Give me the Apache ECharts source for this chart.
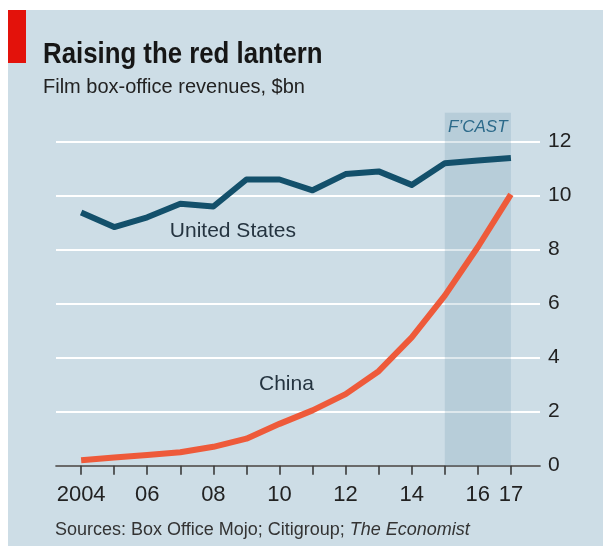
<!DOCTYPE html>
<html>
<head>
<meta charset="utf-8">
<script src="https://cdn.jsdelivr.net/npm/echarts@6/dist/echarts.min.js"></script>
<style>html,body{margin:0;padding:0;background:#fff}#c{width:603px;height:546px}</style>
</head>
<body>
<div id="c"></div>
<script>
const years = [2004,2005,2006,2007,2008,2009,2010,2011,2012,2013,2014,2015,2016,2017];
const usRevenue = [9.38,8.84,9.2,9.7,9.6,10.6,10.6,10.2,10.8,10.9,10.4,11.2,11.3,11.4];
const chinaRevenue = [0.2,0.3,0.4,0.5,0.7,1.0,1.55,2.05,2.65,3.5,4.75,6.3,8.1,10.05];
const xTickValues = [2004,2005,2006,2007,2008,2009,2010,2011,2012,2013,2014,2015,2016,2017];
const xLabelValues = [2004,2006,2008,2010,2012,2014,2016,2017];
const forecastRange = [2015, 2017];

const chart = echarts.init(document.getElementById('c'));
const SANS = '"Liberation Sans", Arial, sans-serif';

const textPoint = (txt, coord) => ({
  silent:true, symbol:'rect', symbolSize:1, itemStyle:{color:'rgba(0,0,0,0)'},
  label:{show:true, position:'inside', formatter:txt, fontSize:21, fontFamily:SANS, color:'#253440'},
  data:[{coord:coord}]
});

chart.setOption({
  animation: false,
  backgroundColor: '#ffffff',
  graphic: [
    {type:'rect', z:-100, shape:{x:8, y:10, width:595, height:536}, style:{fill:'#cddde6'}},
    {type:'rect', z:-90, shape:{x:8, y:10, width:18, height:53}, style:{fill:'#e3120b'}},
    {type:'text', x:43, y:55, scaleX:0.86, style:{text:'Raising the red lantern', font:'bold 30px ' + SANS, fill:'#161616', verticalAlign:'middle'}},
    {type:'text', x:43, y:87, style:{text:'Film box-office revenues, $bn', font:'20px ' + SANS, fill:'#222', verticalAlign:'middle'}},
    {type:'text', x:55, y:530, style:{verticalAlign:'middle', rich:{a:{font:'18px ' + SANS, fill:'#333'}, b:{font:'italic 18px ' + SANS, fill:'#333'}}, text:'{a|Sources: Box Office Mojo; Citigroup; }{b|The Economist}'}}
  ],
  grid: [
    {left:56, right:63, top:141.7, bottom:80.3, containLabel:false},
    {left:56, right:63, top:112.7, bottom:80.3, containLabel:false}
  ],
  xAxis: [{
    type:'value', min:2003.24, max:2017.88, gridIndex:0,
    axisLine:{show:true, onZero:false, lineStyle:{color:'#3a3a3a', width:1.6}},
    axisTick:{show:true, length:9, customValues:xTickValues, lineStyle:{color:'#3a3a3a', width:1.6}},
    axisLabel:{customValues:xLabelValues, margin:18, fontSize:22, fontFamily:SANS, color:'#222',
      formatter: v => v === 2004 ? '2004' : String(v % 100).padStart(2,'0')},
    splitLine:{show:false}
  }, {
    type:'value', min:2003.24, max:2017.88, gridIndex:1, show:false
  }],
  yAxis: [{
    type:'value', position:'right', min:0, max:12, interval:2, gridIndex:0,
    axisLine:{show:false}, axisTick:{show:false},
    axisLabel:{margin:8, fontSize:21, fontFamily:SANS, color:'#222'},
    splitLine:{lineStyle:{color:'#ffffff', width:2}}
  }, {
    type:'value', min:0, max:13.07, gridIndex:1, show:false, splitLine:{show:false}
  }],
  series: [
    {
      type:'line', name:'forecast', xAxisIndex:1, yAxisIndex:1, z:1, silent:true,
      symbol:'none', lineStyle:{width:0, opacity:0}, data:[[forecastRange[0], 0]],
      markArea:{
        silent:true,
        itemStyle:{color:'rgba(105,151,175,0.22)'},
        label:{show:true, position:'insideTop', distance:6, formatter:'F\u2019CAST', fontStyle:'italic', fontSize:17, fontFamily:SANS, color:'#2c6a8a'},
        data:[[{xAxis:forecastRange[0], yAxis:0}, {xAxis:forecastRange[1], yAxis:13.07}]]
      }
    },
    {
      type:'line', name:'United States', symbol:'none', z:3,
      data: years.map((y,i)=>[y, usRevenue[i]]),
      lineStyle:{color:'#13506b', width:6, join:'round'},
      markPoint: textPoint('United States', [2008.59, 8.7])
    },
    {
      type:'line', name:'China', symbol:'none', z:3,
      data: years.map((y,i)=>[y, chinaRevenue[i]]),
      lineStyle:{color:'#ee5a3a', width:6, join:'round'},
      markPoint: textPoint('China', [2010.21, 3.02])
    }
  ]
});
</script>
</body>
</html>
